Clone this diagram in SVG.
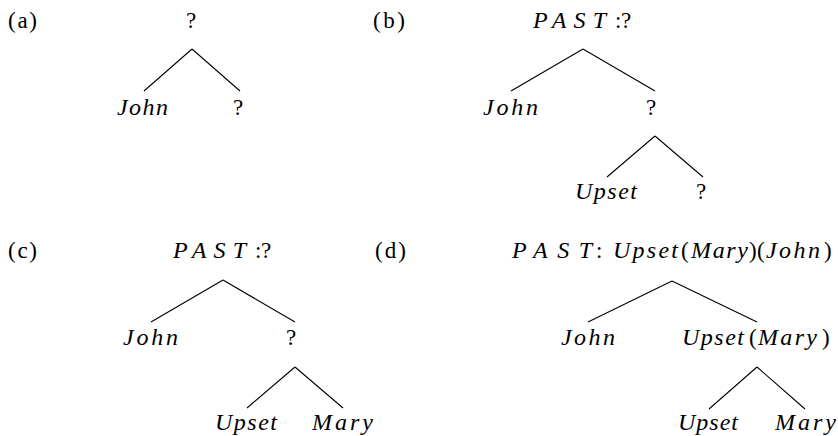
<svg xmlns="http://www.w3.org/2000/svg" width="838" height="436" viewBox="0 0 838 436">
  <style>
    text { font-family: "Liberation Serif", "DejaVu Serif", serif; font-size: 23px; fill: #000; }
    .m { font-style: italic; font-size: 24px; }
    .c { text-anchor: middle; }
    .edge { stroke: #000; stroke-width: 1.1; fill: none; }
  </style>
  <rect width="838" height="436" fill="#fff"/>

  <!-- panel labels -->
  <g id="labels">
    <text x="8" y="28" textLength="29" lengthAdjust="spacing">(a)</text>
    <text x="373" y="28" textLength="32" lengthAdjust="spacing">(b)</text>
    <text x="8" y="258" textLength="29" lengthAdjust="spacing">(c)</text>
    <text x="375" y="258" textLength="31" lengthAdjust="spacing">(d)</text>
  </g>

  <!-- tree edges -->
  <g id="connectors">
    <path class="edge" d="M192,49 L144,91 M192,49 L240,91"/>
    <path class="edge" d="M583,49 L511,91 M583,49 L655,91 M655,136 L607,177 M655,136 L703,177"/>
    <path class="edge" d="M223,280 L151,322 M223,280 L295,322 M295,367 L247,408 M295,367 L343,408"/>
    <path class="edge" d="M672,281 L588,322 M672,281 L757,322 M757,367 L709,409 M757,367 L805,409"/>
  </g>

  <!-- (a) -->
  <g id="a-root"><text class="c" x="191" y="28">?</text></g>
  <g id="a-john"><text class="m" x="117" y="115" textLength="51" lengthAdjust="spacing">John</text></g>
  <g id="a-q"><text class="c" x="238" y="115">?</text></g>

  <!-- (b) -->
  <g id="b-root">
    <text class="m" x="533" y="28" textLength="73" lengthAdjust="spacing">PAST</text>
    <text x="615" y="28">:</text>
    <text x="621" y="28">?</text>
  </g>
  <g id="b-john"><text class="m" x="483" y="115" textLength="55" lengthAdjust="spacing">John</text></g>
  <g id="b-q"><text class="c" x="651" y="115">?</text></g>
  <g id="b-upset"><text class="m" x="575" y="199" textLength="62" lengthAdjust="spacing">Upset</text></g>
  <g id="b-q2"><text class="c" x="701" y="199">?</text></g>

  <!-- (c) -->
  <g id="c-root">
    <text class="m" x="173" y="258" textLength="73" lengthAdjust="spacing">PAST</text>
    <text x="255" y="258">:</text>
    <text x="261" y="258">?</text>
  </g>
  <g id="c-john"><text class="m" x="123" y="345" textLength="55" lengthAdjust="spacing">John</text></g>
  <g id="c-q"><text class="c" x="291" y="345">?</text></g>
  <g id="c-upset"><text class="m" x="215" y="430" textLength="62" lengthAdjust="spacing">Upset</text></g>
  <g id="c-mary"><text class="m" x="312" y="430" textLength="61" lengthAdjust="spacing">Mary</text></g>

  <!-- (d) -->
  <g id="d-root">
    <text class="m" x="512" y="258" textLength="80" lengthAdjust="spacing">PAST</text>
    <text x="596" y="258">:</text>
    <text class="m" x="613" y="258" textLength="65" lengthAdjust="spacing">Upset</text>
    <text x="681" y="258">(</text>
    <text class="m" x="691" y="258" textLength="57" lengthAdjust="spacing">Mary</text>
    <text x="749" y="258">)</text>
    <text x="757" y="258">(</text>
    <text class="m" x="766" y="258" textLength="54" lengthAdjust="spacing">John</text>
    <text x="824" y="258">)</text>
  </g>
  <g id="d-john"><text class="m" x="561" y="345" textLength="54" lengthAdjust="spacing">John</text></g>
  <g id="d-upsetmary">
    <text class="m" x="682" y="345" textLength="62" lengthAdjust="spacing">Upset</text>
    <text x="749" y="345">(</text>
    <text class="m" x="758" y="345" textLength="59" lengthAdjust="spacing">Mary</text>
    <text x="822" y="345">)</text>
  </g>
  <g id="d-upset"><text class="m" x="678" y="430" textLength="60" lengthAdjust="spacing">Upset</text></g>
  <g id="d-mary"><text class="m" x="775" y="430" textLength="61" lengthAdjust="spacing">Mary</text></g>
</svg>
